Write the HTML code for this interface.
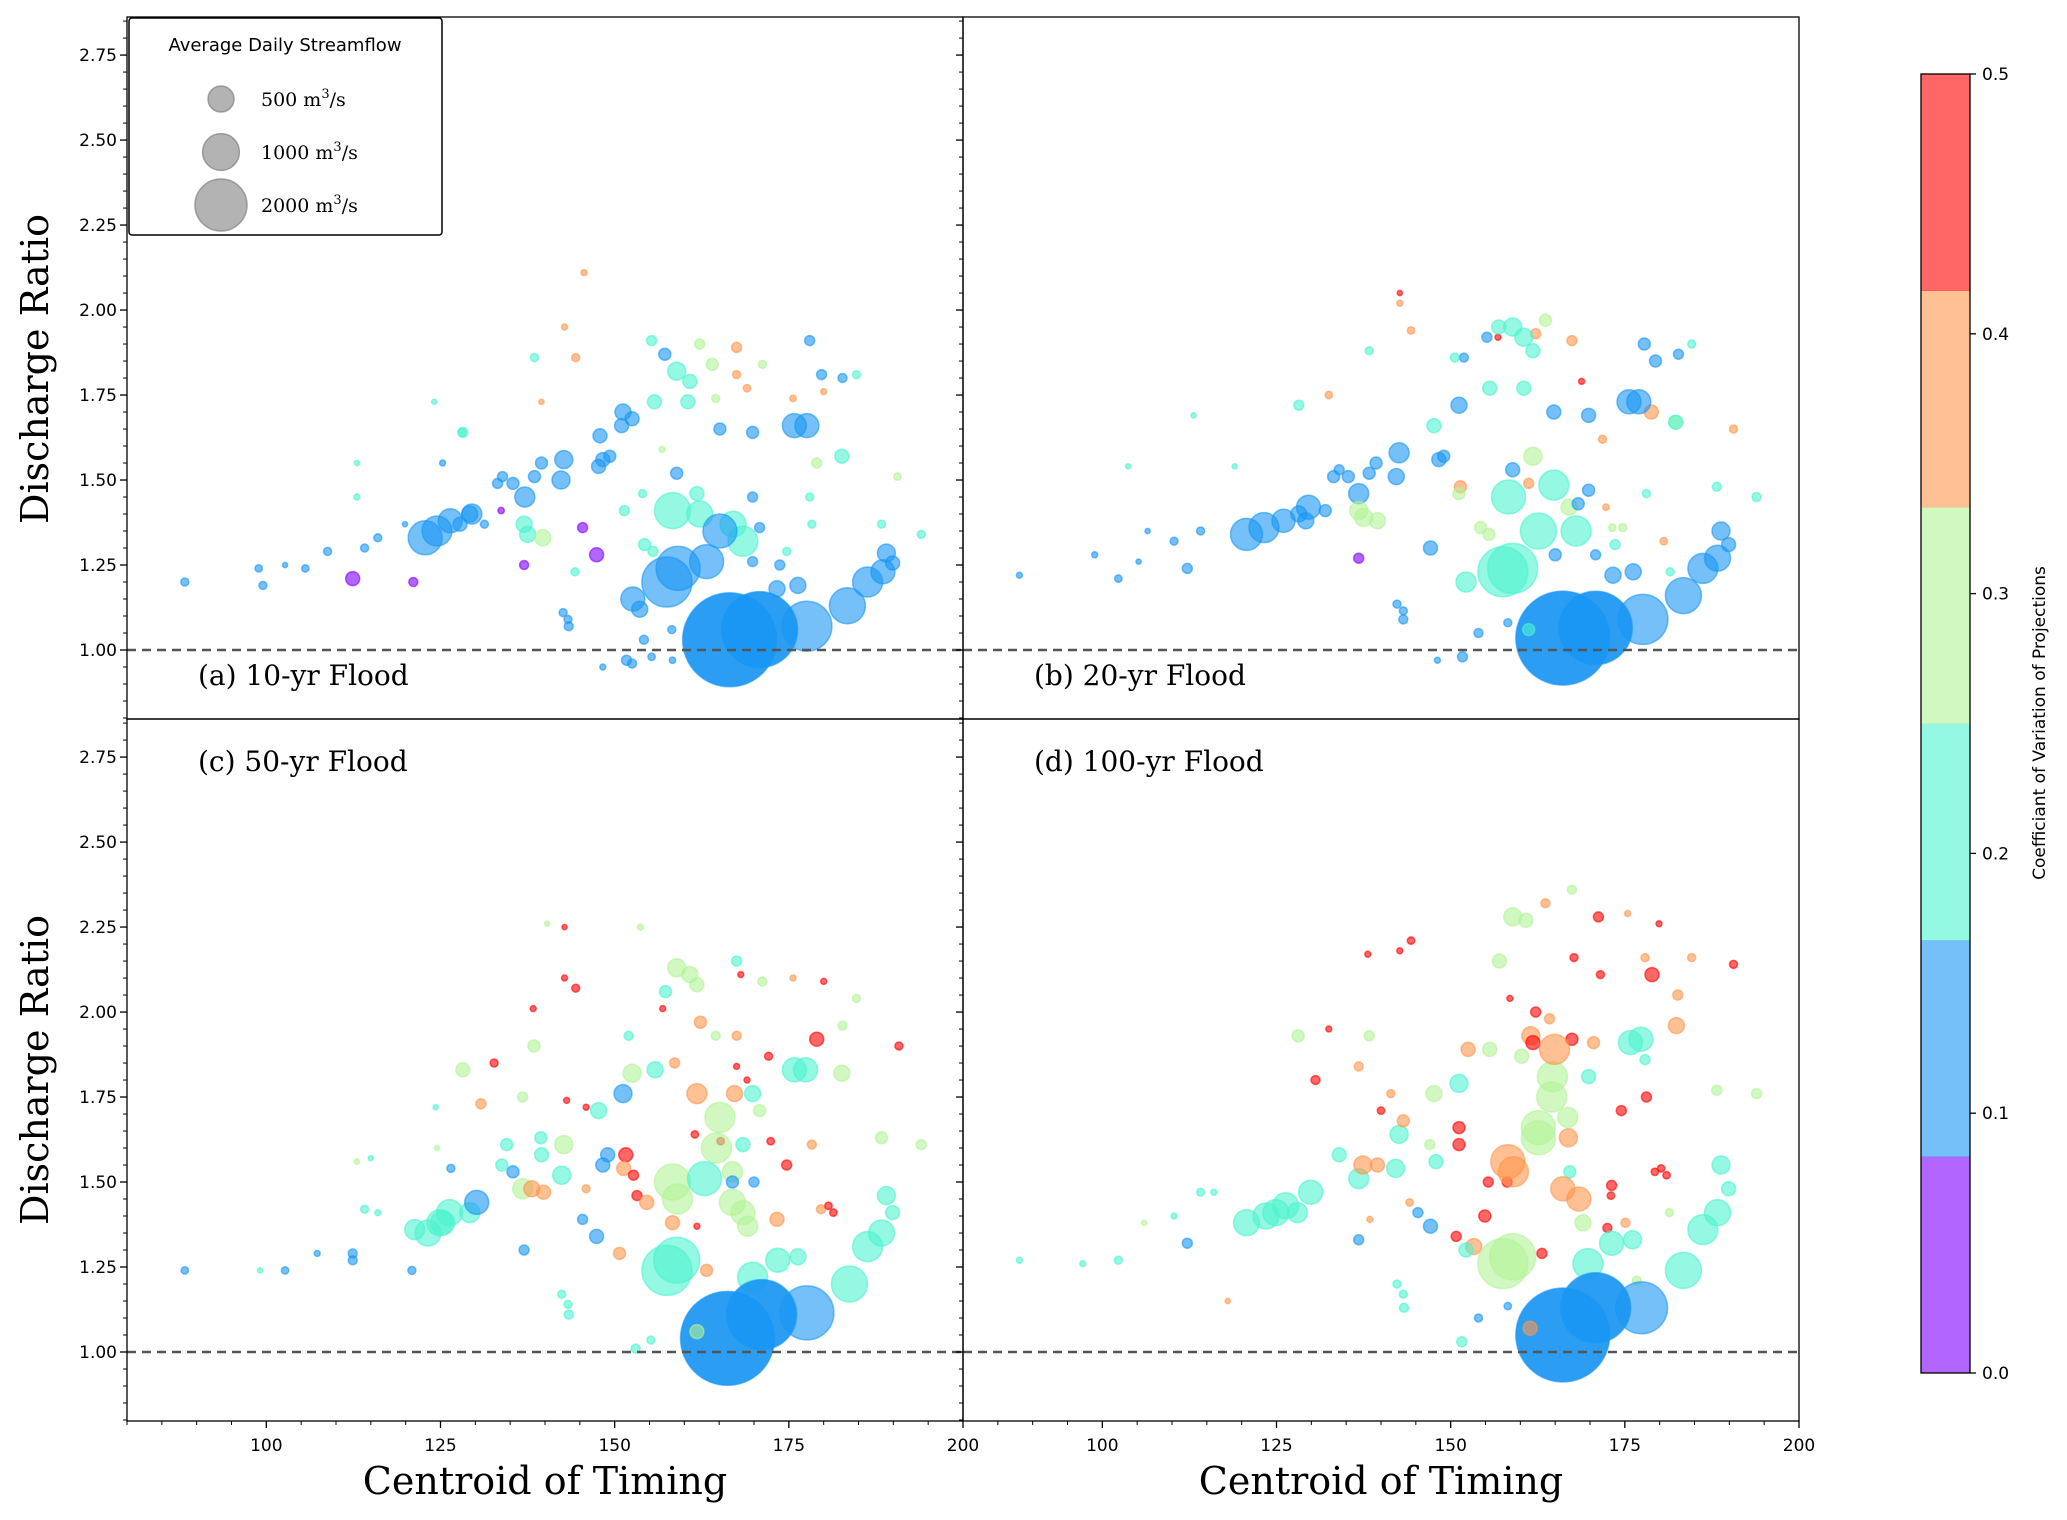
<!DOCTYPE html>
<html><head><meta charset="utf-8">
<style>
html,body{margin:0;padding:0;background:#fff;}
svg{display:block;}
</style></head>
<body>
<svg id="fig" width="2067" height="1520" viewBox="0 0 2067 1520" xmlns="http://www.w3.org/2000/svg">
  <rect x="0" y="0" width="2067" height="1520" fill="#fff"/>
  <g id="marks"></g>
  <g id="axes"></g>
  <text x="0" y="0" transform="translate(48,369) rotate(-90)" text-anchor="middle" font-family="DejaVu Serif, Liberation Serif, serif" font-size="38">Discharge Ratio</text>
  <text x="0" y="0" transform="translate(48,1070) rotate(-90)" text-anchor="middle" font-family="DejaVu Serif, Liberation Serif, serif" font-size="38">Discharge Ratio</text>
  <text x="545" y="1494" text-anchor="middle" font-family="DejaVu Serif, Liberation Serif, serif" font-size="38">Centroid of Timing</text>
  <text x="1381" y="1494" text-anchor="middle" font-family="DejaVu Serif, Liberation Serif, serif" font-size="38">Centroid of Timing</text>
  <text x="198" y="685" font-family="DejaVu Serif, Liberation Serif, serif" font-size="28">(a) 10-yr Flood</text>
  <text x="1034" y="685" font-family="DejaVu Serif, Liberation Serif, serif" font-size="28">(b) 20-yr Flood</text>
  <text x="198" y="771" font-family="DejaVu Serif, Liberation Serif, serif" font-size="28">(c) 50-yr Flood</text>
  <text x="1034" y="771" font-family="DejaVu Serif, Liberation Serif, serif" font-size="28">(d) 100-yr Flood</text>
  <g>
    <rect x="129" y="18" width="313" height="217" rx="3" fill="#fff" stroke="#000" stroke-width="1.5"/>
    <text x="285" y="51" text-anchor="middle" font-family="DejaVu Sans, Liberation Sans, sans-serif" font-size="18">Average Daily Streamflow</text>
    <circle cx="221" cy="99" r="13" fill="#808080" fill-opacity="0.6" stroke="#808080" stroke-opacity="0.7" stroke-width="1.5"/>
    <circle cx="221" cy="152" r="18.4" fill="#808080" fill-opacity="0.6" stroke="#808080" stroke-opacity="0.7" stroke-width="1.5"/>
    <circle cx="221" cy="205" r="26" fill="#808080" fill-opacity="0.6" stroke="#808080" stroke-opacity="0.7" stroke-width="1.5"/>
    <text x="261" y="106" font-family="DejaVu Serif, Liberation Serif, serif" font-size="19">500 m<tspan dy="-8" font-size="13">3</tspan><tspan dy="8">/s</tspan></text>
    <text x="261" y="159" font-family="DejaVu Serif, Liberation Serif, serif" font-size="19">1000 m<tspan dy="-8" font-size="13">3</tspan><tspan dy="8">/s</tspan></text>
    <text x="261" y="212" font-family="DejaVu Serif, Liberation Serif, serif" font-size="19">2000 m<tspan dy="-8" font-size="13">3</tspan><tspan dy="8">/s</tspan></text>
  </g>
  <g id="colorbar"></g>
  <text x="0" y="0" transform="translate(2045,723) rotate(-90)" text-anchor="middle" font-family="DejaVu Sans, Liberation Sans, sans-serif" font-size="17">Coefficiant of Variation of Projections</text>
</svg>
<script>
const aX=[88.3,98.9,99.5,102.7,105.6,108.8,112.4,114.1,116,121.1,122.8,124.5,126.4,129.2,131.3,119.9,113,113,124.1,128.1,125.3,129.5,127.8,133.9,133.2,135.4,137.1,138.5,139.5,142.3,142.7,147.7,148.3,149.3,147.9,151.2,152.5,151,138.5,128.2,137.5,137,139.7,144.3,147.4,145.4,137,133.7,145.6,142.8,144.4,139.5,167.5,167.5,169,175.6,180,155.3,162.2,164,171.2,164.5,156.8,155.7,158.9,160.8,160.5,157.2,178,179.7,182.7,184.7,165.1,169.8,158.9,169.8,179,190.6,194,188.3,161.8,175.8,177.6,182.6,151.4,154.3,155.5,154,178,178.3,174.7,142.6,143.3,143.4,151.7,152.5,148.3,155.3,158.3,154.2,158.2,158.3,162.2,167,168.4,165.1,163.2,159.1,152.6,153.6,173.3,176.3,173.7,170.8,169.8,183.4,186.3,188.5,189,189.9,157.5,177.6,170.8,166.5];
const aY=[1.20,1.24,1.19,1.25,1.24,1.29,1.21,1.30,1.33,1.20,1.33,1.35,1.38,1.40,1.37,1.37,1.55,1.45,1.73,1.64,1.55,1.40,1.37,1.51,1.49,1.49,1.45,1.51,1.55,1.50,1.56,1.54,1.56,1.57,1.63,1.70,1.68,1.66,1.86,1.64,1.34,1.37,1.33,1.23,1.28,1.36,1.25,1.41,2.11,1.95,1.86,1.73,1.89,1.81,1.77,1.74,1.76,1.91,1.90,1.84,1.84,1.74,1.59,1.73,1.82,1.79,1.73,1.87,1.91,1.81,1.80,1.81,1.65,1.64,1.52,1.45,1.55,1.51,1.34,1.37,1.46,1.66,1.66,1.57,1.41,1.31,1.29,1.46,1.45,1.37,1.29,1.11,1.09,1.07,0.97,0.96,0.95,0.98,0.97,1.03,1.06,1.41,1.40,1.37,1.32,1.35,1.26,1.24,1.15,1.12,1.18,1.19,1.25,1.36,1.26,1.13,1.20,1.23,1.285,1.256,1.20,1.07,1.06,1.03];
const aQ=[48,40,48,20,40,48,146,48,48,60,860,670,430,190,48,20,20,27,20,48,27,300,146,74,74,107,300,107,107,240,240,146,146,107,146,190,146,146,48,74,190,190,190,48,146,74,60,30,27,27,48,20,74,48,40,30,27,74,74,107,48,48,27,146,240,146,146,107,74,74,60,48,107,107,107,74,74,40,48,48,146,430,430,146,74,107,74,48,48,48,48,48,48,60,74,60,27,40,30,60,48,960,500,500,670,860,860,1440,430,190,190,190,74,74,74,960,670,430,240,146,1860,1860,4300,6570];
const aCV=[.12,.12,.12,.12,.12,.12,.04,.12,.12,.04,.12,.12,.12,.12,.12,.12,.2,.2,.2,.2,.12,.12,.12,.12,.12,.12,.12,.12,.12,.12,.12,.12,.12,.12,.12,.12,.12,.12,.2,.2,.2,.2,.29,.2,.04,.04,.04,.04,.38,.38,.38,.38,.38,.38,.38,.38,.38,.2,.29,.29,.29,.29,.29,.2,.2,.2,.2,.12,.12,.12,.12,.2,.12,.12,.12,.12,.29,.29,.2,.2,.2,.12,.12,.2,.2,.2,.2,.2,.2,.2,.2,.12,.12,.12,.12,.12,.12,.12,.12,.12,.12,.2,.2,.2,.2,.12,.12,.12,.12,.12,.12,.12,.12,.12,.12,.12,.12,.12,.12,.12,.12,.12,.12,.12];

const bX=[88.1,98.9,102.3,105.2,106.5,110.3,112.2,114.1,103.7,113.1,119,120.7,123.2,126,129.2,132,129.6,128.2,133.2,134,135.3,136.8,138.3,139.3,142.2,142.6,147.6,148.3,149,151.2,136.8,137.5,139.5,138.3,128.2,144.3,142.7,142.7,132.5,136.8,147.1,142.3,143.2,143.2,151.7,148.1,154,158.2,155.2,156.8,151.9,150.6,177.8,179.4,182.7,184.6,164.8,169.8,178.8,190.6,171.8,168.8,167.4,162.2,163.6,156.9,158.9,160.5,161.8,155.6,160.5,161.8,158.9,151.4,151.2,161.2,167,169.8,168.3,154.3,155.5,188.2,193.9,178.1,173.2,174.7,180.6,172.3,173.6,181.5,152.2,158.3,164.8,162.6,168,165,170.8,173.3,176.2,175.6,177,182.3,182.3,183.4,186.2,188.3,188.8,189.9,157.5,158.9,177.6,170.8,166.1,161.2];
const bY=[1.22,1.28,1.21,1.26,1.35,1.32,1.24,1.35,1.54,1.69,1.54,1.34,1.36,1.38,1.38,1.41,1.42,1.40,1.51,1.53,1.51,1.46,1.52,1.55,1.51,1.58,1.66,1.56,1.57,1.72,1.41,1.39,1.38,1.88,1.72,1.94,2.02,2.05,1.75,1.27,1.30,1.135,1.115,1.09,0.98,0.97,1.05,1.08,1.92,1.92,1.86,1.86,1.90,1.85,1.87,1.90,1.70,1.69,1.70,1.65,1.62,1.79,1.91,1.93,1.97,1.95,1.95,1.92,1.88,1.77,1.77,1.57,1.53,1.48,1.46,1.49,1.42,1.47,1.43,1.36,1.34,1.48,1.45,1.46,1.36,1.36,1.32,1.42,1.31,1.23,1.20,1.45,1.485,1.35,1.35,1.28,1.28,1.22,1.23,1.73,1.73,1.67,1.67,1.16,1.24,1.27,1.35,1.31,1.23,1.24,1.09,1.065,1.035,1.06];
const bQ=[27,27,40,20,20,48,74,48,20,20,20,760,670,400,190,107,430,190,107,74,107,300,107,107,190,300,146,146,107,190,240,240,190,48,74,40,27,20,40,74,146,48,48,60,74,27,60,48,74,27,60,60,107,107,74,48,146,146,146,48,48,27,74,74,107,146,240,240,146,146,146,240,146,107,107,74,190,107,107,107,107,60,60,48,40,48,40,30,74,48,300,860,670,960,670,107,74,190,190,430,430,146,146,960,670,500,240,146,1860,1860,1860,4000,6570,107];
const bCV=[.12,.12,.12,.12,.12,.12,.12,.12,.2,.2,.2,.12,.12,.12,.12,.12,.12,.12,.12,.12,.12,.12,.12,.12,.12,.12,.2,.12,.12,.12,.29,.29,.29,.2,.2,.38,.38,.46,.38,.04,.12,.12,.12,.12,.12,.12,.12,.12,.12,.46,.12,.2,.12,.12,.12,.2,.12,.12,.38,.38,.38,.46,.38,.38,.29,.2,.2,.2,.2,.2,.2,.29,.12,.38,.29,.38,.29,.12,.12,.29,.29,.2,.2,.2,.29,.29,.38,.38,.2,.2,.2,.2,.2,.2,.2,.12,.12,.12,.12,.12,.12,.29,.2,.12,.12,.12,.12,.12,.2,.2,.12,.12,.12,.2];

const cX=[88.3,99.1,102.7,107.3,112.4,112.4,114.1,116,120.9,123.2,121.3,125.3,126.3,124.9,129.2,130.2,126.5,113,115,124.5,124.3,128.2,130.8,132.7,134.5,133.8,135.4,137,136.8,138.1,139.8,138.4,136.8,138.3,140.3,142.8,142.8,144.4,143.1,139.4,139.5,142.4,142.7,145.4,147.4,148.3,149,145.9,145.9,147.7,151.2,152.5,152,155.8,153.7,156.9,157.3,158.9,160.8,161.8,167.5,168.1,171.2,175.6,180,184.7,182.7,162.3,167.5,164.5,158.6,161.8,167.2,169.8,167.5,169,172.1,179,190.8,170.8,161.5,165.2,172.4,168.4,174.7,178.3,188.3,194,151.6,151.3,152.7,153.2,154.6,158.3,150.7,161.8,163.2,173.3,179.6,180.7,181.4,142.4,143.3,143.4,155.2,153,158.3,159,165.1,164.6,166.9,166.9,168.4,169.1,162.9,166.9,170,175.8,177.4,182.6,169.8,173.4,176.3,183.7,186.3,188.3,189,189.9,157.5,158.9,177.6,171.1,166.2,161.8];
const cY=[1.24,1.24,1.24,1.29,1.29,1.27,1.42,1.41,1.24,1.35,1.36,1.38,1.41,1.38,1.41,1.44,1.54,1.56,1.57,1.60,1.72,1.83,1.73,1.85,1.61,1.55,1.53,1.30,1.48,1.48,1.47,1.90,1.75,2.01,2.26,2.25,2.10,2.07,1.74,1.63,1.58,1.52,1.61,1.39,1.34,1.55,1.58,1.72,1.48,1.71,1.76,1.82,1.93,1.83,2.25,2.01,2.06,2.13,2.11,2.08,2.15,2.11,2.09,2.10,2.09,2.04,1.96,1.97,1.93,1.93,1.85,1.76,1.76,1.76,1.84,1.80,1.87,1.92,1.90,1.71,1.64,1.62,1.62,1.61,1.55,1.61,1.63,1.61,1.58,1.54,1.52,1.46,1.44,1.38,1.29,1.37,1.24,1.39,1.42,1.43,1.41,1.17,1.14,1.11,1.035,1.01,1.50,1.45,1.69,1.60,1.53,1.44,1.41,1.37,1.51,1.50,1.50,1.83,1.83,1.82,1.22,1.27,1.28,1.20,1.31,1.35,1.46,1.41,1.24,1.27,1.115,1.11,1.04,1.06];
const cQ=[40,20,40,27,60,60,48,27,48,500,300,430,500,500,300,430,48,20,20,20,20,146,74,48,107,107,107,74,300,190,146,107,74,27,20,20,27,48,27,107,146,240,240,74,146,146,146,27,48,190,240,240,60,190,27,27,107,240,190,146,74,27,60,27,27,48,60,107,60,60,74,300,190,190,27,27,48,146,48,107,40,40,40,146,74,60,107,74,146,146,74,74,146,146,107,27,107,146,60,40,40,48,48,60,48,60,960,670,670,670,300,500,430,300,860,107,74,430,430,190,670,430,190,960,670,500,240,146,1860,1570,2170,3640,6570,146];
const cCV=[.12,.2,.12,.12,.12,.12,.2,.2,.12,.2,.2,.2,.2,.2,.2,.12,.12,.29,.2,.29,.2,.29,.38,.46,.2,.2,.12,.12,.29,.38,.38,.29,.29,.46,.29,.46,.46,.46,.46,.2,.2,.2,.29,.12,.12,.12,.12,.46,.38,.2,.12,.29,.2,.2,.29,.46,.2,.29,.29,.29,.2,.46,.29,.38,.46,.29,.29,.38,.38,.29,.38,.38,.38,.2,.46,.46,.46,.46,.46,.29,.46,.46,.46,.2,.46,.38,.29,.29,.46,.38,.46,.46,.38,.38,.38,.46,.38,.38,.38,.46,.46,.2,.2,.2,.2,.2,.29,.29,.29,.29,.29,.29,.29,.29,.2,.12,.12,.2,.2,.29,.2,.2,.2,.2,.2,.2,.2,.2,.2,.2,.12,.12,.12,.29];

const dX=[88.1,97.2,102.3,110.3,112.2,114.1,116,106,118,120.7,123.5,124.9,126.3,128,129.9,128.1,130.6,132.5,134,136.8,137.4,139.5,136.8,136.8,138.1,138.3,140,141.4,142.1,142.6,143.2,142.7,144.3,144.1,138.4,145.3,147.1,147,147.6,147.9,142.3,143.2,143.3,150.8,151.2,151.2,152.5,151.2,153.3,152.2,154.9,155.4,158.1,155.6,154,158.2,151.6,157,158.9,160.8,163.6,167.4,158.5,162.2,164.2,161.5,161.8,160.2,167.4,170.5,169.8,171.2,167.7,171.5,175.4,177.9,179.9,178.9,184.6,182.6,182.4,175.8,177.3,177.9,190.6,174.5,178.1,188.2,193.9,173.1,179.3,180.2,181,173,175.1,172.5,181.4,176.7,167.1,164.6,164.5,162.6,162.6,166.8,166.9,158.2,159,164.9,166.1,168.4,169,163.1,169.7,173.1,176.1,183.4,186.2,188.3,188.8,189.9,157.5,158.9,177.4,170.8,166.1,161.4];
const dY=[1.27,1.26,1.27,1.40,1.32,1.47,1.47,1.38,1.15,1.38,1.40,1.41,1.43,1.41,1.47,1.93,1.80,1.95,1.58,1.51,1.55,1.55,1.84,1.33,2.17,1.93,1.71,1.76,1.54,1.64,1.68,2.18,2.21,1.44,1.39,1.41,1.37,1.61,1.76,1.56,1.20,1.17,1.13,1.34,1.66,1.61,1.89,1.79,1.31,1.30,1.40,1.50,1.50,1.89,1.10,1.135,1.03,2.15,2.28,2.27,2.32,2.36,2.04,2.00,1.98,1.93,1.91,1.87,1.92,1.91,1.81,2.28,2.16,2.11,2.29,2.16,2.26,2.11,2.16,2.05,1.96,1.91,1.92,1.86,2.14,1.71,1.75,1.77,1.76,1.49,1.53,1.54,1.52,1.46,1.38,1.365,1.41,1.21,1.53,1.81,1.75,1.66,1.63,1.69,1.63,1.56,1.53,1.89,1.48,1.45,1.38,1.29,1.26,1.32,1.33,1.24,1.36,1.41,1.55,1.48,1.26,1.28,1.13,1.13,1.05,1.07];
const dQ=[27,27,48,27,74,48,27,20,20,500,500,500,500,300,430,107,60,27,146,300,240,146,60,74,27,74,40,48,240,240,107,27,40,40,27,74,146,74,190,146,48,48,60,74,107,107,146,240,190,146,107,74,74,146,48,40,74,146,240,146,60,60,27,74,74,240,146,146,107,107,146,74,48,48,27,48,27,146,48,74,190,430,430,74,48,74,74,74,74,74,40,40,40,40,60,60,48,60,107,670,670,860,860,300,240,860,670,670,430,430,190,74,670,430,240,960,670,500,240,146,1860,1570,2000,3640,6570,146];
const dCV=[.2,.2,.2,.2,.12,.2,.2,.29,.38,.2,.2,.2,.2,.2,.2,.29,.46,.46,.2,.2,.38,.38,.38,.12,.46,.29,.46,.38,.2,.2,.38,.46,.46,.38,.38,.12,.12,.29,.29,.2,.2,.2,.2,.46,.46,.46,.38,.2,.38,.2,.46,.46,.46,.29,.12,.12,.2,.29,.29,.29,.38,.29,.46,.46,.38,.38,.46,.29,.46,.38,.2,.46,.46,.46,.38,.38,.46,.46,.38,.38,.38,.2,.2,.2,.46,.46,.46,.29,.29,.46,.46,.46,.46,.46,.38,.46,.29,.29,.2,.29,.29,.29,.29,.29,.38,.38,.38,.38,.38,.38,.29,.46,.2,.2,.2,.2,.2,.2,.2,.2,.29,.29,.12,.12,.12,.38];

const yMajorTicks=[1.00,1.25,1.50,1.75,2.00,2.25,2.50,2.75];
const xMajorTicks=[100,125,150,175,200];
const cbTicks=[0.0,0.1,0.2,0.3,0.4,0.5];
const cbColors=['#8000ff','#1996f3','#4df3ce','#b3f396','#ff964d','#ff0000'];

const NS='http://www.w3.org/2000/svg';
const XMIN=80,XMAX=200,YMIN=0.797,YMAX=2.862;
const panels=[
  {id:'a',L:127,T:17,X:aX,Y:aY,Q:aQ,C:aCV,bottom:false,left:true},
  {id:'b',L:963,T:17,X:bX,Y:bY,Q:bQ,C:bCV,bottom:false,left:false},
  {id:'c',L:127,T:719,X:cX,Y:cY,Q:cQ,C:cCV,bottom:true,left:true},
  {id:'d',L:963,T:719,X:dX,Y:dY,Q:dQ,C:dCV,bottom:true,left:false}
];
const PW=836,PH=702;
function mk(tag,attrs,parent){const e=document.createElementNS(NS,tag);for(const k in attrs)e.setAttribute(k,attrs[k]);parent.appendChild(e);return e;}
function colorFor(cv){let i=Math.floor(cv/(0.5/6));if(i>5)i=5;if(i<0)i=0;return cbColors[i];}
const marks=document.getElementById('marks');
const axes=document.getElementById('axes');

panels.forEach(p=>{
  const sx=v=>p.L+(v-XMIN)/(XMAX-XMIN)*PW;
  const sy=v=>p.T+(YMAX-v)/(YMAX-YMIN)*PH;
  const cp=mk('clipPath',{id:'clip-'+p.id},marks);
  mk('rect',{x:p.L,y:p.T,width:PW,height:PH},cp);
  const g=mk('g',{'clip-path':'url(#clip-'+p.id+')'},marks);
  
  
  for(let i=0;i<p.X.length;i++){
    const col=colorFor(p.C[i]);
    const r=0.58*Math.sqrt(p.Q[i]);
    const op=p.Q[i]>3000?0.92:0.6;
    const c=mk('circle',{cx:sx(p.X[i]).toFixed(1),cy:sy(p.Y[i]).toFixed(1),r:r.toFixed(1),fill:col,'fill-opacity':op,stroke:col,'stroke-opacity':0.6,'stroke-width':1.5},g);
    
    
  }
  const dl=mk('line',{x1:p.L,x2:p.L+PW,y1:sy(1),y2:sy(1),stroke:'#555','stroke-width':2.6,'stroke-dasharray':'9,6'},axes);
  
  
  const fr=mk('rect',{x:p.L,y:p.T,width:PW,height:PH,fill:'none',stroke:'#000','stroke-width':1.3},axes);
  
  
  for(let k=0;k<=41;k++){
    const v=0.80+k*0.05; if(v>YMAX)break;
    const major=yMajorTicks.some(t=>Math.abs(t-v)<1e-6);
    const y=sy(v);
    mk('line',{x1:p.L,x2:p.L-(major?7:4),y1:y,y2:y,stroke:'#000','stroke-width':major?1.3:1},axes);
  }
  if(p.left){
    yMajorTicks.forEach(t=>{
      const tx=mk('text',{x:p.L-10,y:sy(t)+6,'text-anchor':'end','font-family':'DejaVu Sans, Liberation Sans, sans-serif','font-size':17},axes);
      tx.textContent=t.toFixed(2);
      
      
    });
  }
  if(p.bottom){
    for(let v=80;v<=200;v+=5){
      const major=xMajorTicks.indexOf(v)>=0;
      const x=sx(v);
      mk('line',{x1:x,x2:x,y1:p.T+PH,y2:p.T+PH+(major?7:4),stroke:'#000','stroke-width':major?1.3:1},axes);
    }
    xMajorTicks.forEach(t=>{
      const tx=mk('text',{x:sx(t),y:p.T+PH+30,'text-anchor':'middle','font-family':'DejaVu Sans, Liberation Sans, sans-serif','font-size':17},axes);
      tx.textContent=String(t);
      
      
    });
  }
});

const cb=document.getElementById('colorbar');
const CBL=1921,CBR=1970,CBT=74,CBB=1373;
const cby=v=>CBB-(v/0.5)*(CBB-CBT);
cbColors.forEach((col,i)=>{
  const r=mk('rect',{x:CBL,y:cby((i+1)*0.5/6),width:CBR-CBL,height:(CBB-CBT)/6+0.5,fill:col,'fill-opacity':0.6},cb);
  
  
});
mk('rect',{x:CBL,y:CBT,width:CBR-CBL,height:CBB-CBT,fill:'none',stroke:'#000','stroke-width':1.3},cb);
cbTicks.forEach(t=>{
  const y=cby(t);
  mk('line',{x1:CBR,x2:CBR+6,y1:y,y2:y,stroke:'#000','stroke-width':1.3},cb);
  const tx=mk('text',{x:CBR+12,y:y+6,'font-family':'DejaVu Sans, Liberation Sans, sans-serif','font-size':17},cb);
  tx.textContent=t.toFixed(1);
  
  
});
</script>
</body></html>
